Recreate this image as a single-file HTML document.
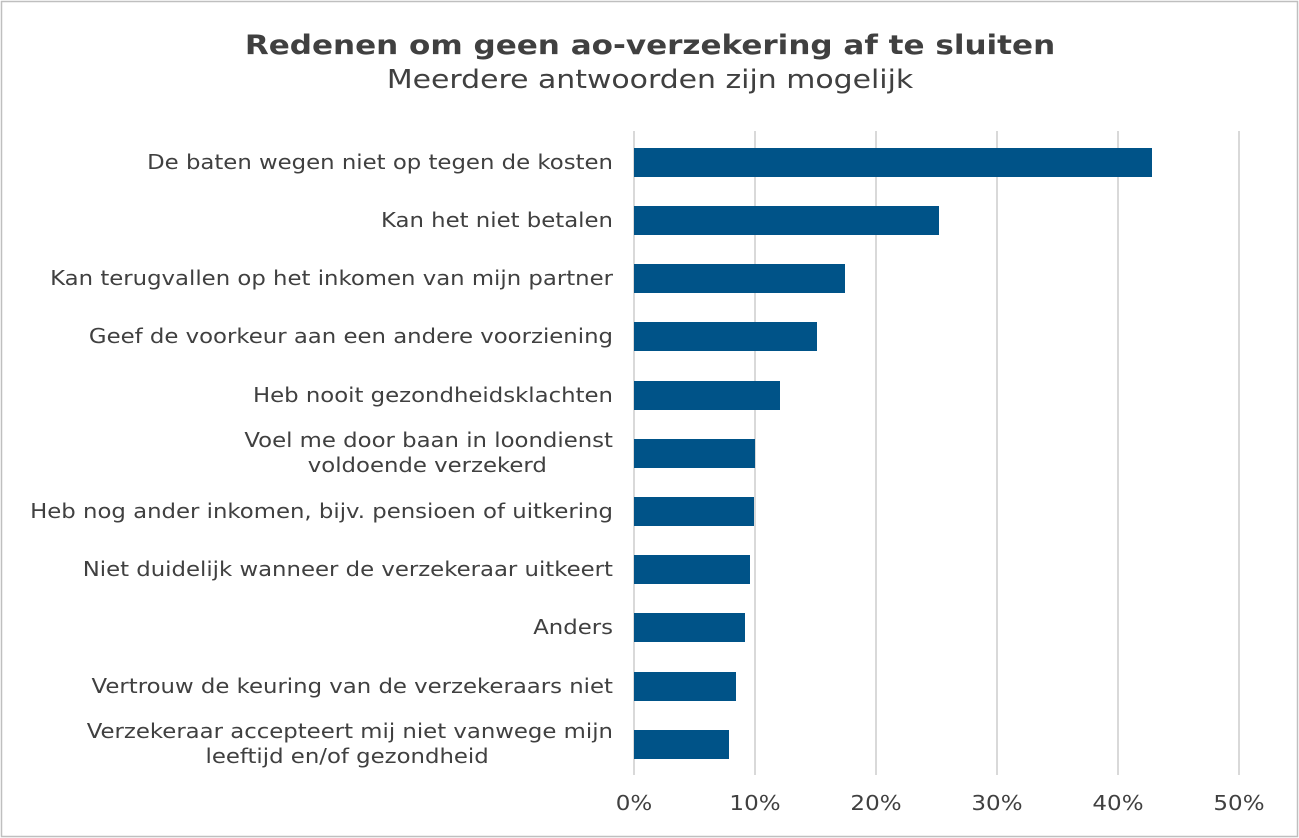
<!DOCTYPE html>
<html><head><meta charset="utf-8"><style>
html,body{margin:0;padding:0;background:#fff}
svg{display:block}
text{font-family:"DejaVu Sans","Liberation Sans",sans-serif;fill:#404040}
</style></head><body>
<svg width="1299" height="838" viewBox="0 0 1299 838">
<rect x="1.5" y="1.5" width="1296" height="835" fill="#fff" stroke="#bfbfbf" stroke-width="1.5"/>
<g transform="translate(650,0) scale(1.15,1) translate(-650,0)">
<text x="650" y="54" text-anchor="middle" font-size="27" font-weight="bold">Redenen om geen ao-verzekering af te sluiten</text>
<text x="650" y="88" text-anchor="middle" font-size="26">Meerdere antwoorden zijn mogelijk</text>
</g>
<g stroke="#d9d9d9" stroke-width="2">
<line x1="755" y1="131" x2="755" y2="775"/><line x1="876" y1="131" x2="876" y2="775"/>
<line x1="997" y1="131" x2="997" y2="775"/><line x1="1118" y1="131" x2="1118" y2="775"/>
<line x1="1239" y1="131" x2="1239" y2="775"/>
</g>
<line x1="634" y1="131" x2="634" y2="775" stroke="#d9d9d9" stroke-width="2"/>
<g fill="#005388">
<rect x="634" y="148" width="518" height="29"/>
<rect x="634" y="206" width="305" height="29"/>
<rect x="634" y="264" width="211" height="29"/>
<rect x="634" y="322" width="183" height="29"/>
<rect x="634" y="381" width="146" height="29"/>
<rect x="634" y="439" width="121" height="29"/>
<rect x="634" y="497" width="120" height="29"/>
<rect x="634" y="555" width="116" height="29"/>
<rect x="634" y="613" width="111" height="29"/>
<rect x="634" y="672" width="102" height="29"/>
<rect x="634" y="730" width="95" height="29"/>
</g>
<g font-size="20" text-anchor="end" transform="translate(613,0) scale(1.14,1) translate(-613,0)">
<text x="613" y="169">De baten wegen niet op tegen de kosten</text>
<text x="613" y="227">Kan het niet betalen</text>
<text x="613" y="285">Kan terugvallen op het inkomen van mijn partner</text>
<text x="613" y="343">Geef de voorkeur aan een andere voorziening </text>
<text x="613" y="402">Heb nooit gezondheidsklachten</text>
<text x="613" y="447">Voel me door baan in loondienst</text>
<text x="555" y="472">voldoende verzekerd</text>
<text x="613" y="518">Heb nog ander inkomen, bijv. pensioen of uitkering</text>
<text x="613" y="576">Niet duidelijk wanneer de verzekeraar uitkeert </text>
<text x="613" y="634">Anders</text>
<text x="613" y="693">Vertrouw de keuring van de verzekeraars niet </text>
<text x="613" y="738">Verzekeraar accepteert mij niet vanwege mijn</text>
<text x="504" y="763">leeftijd en/of gezondheid</text>
</g>
<g font-size="20" text-anchor="middle">
<text x="634" y="810" transform="translate(634,0) scale(1.15,1) translate(-634,0)">0%</text>
<text x="755" y="810" transform="translate(755,0) scale(1.15,1) translate(-755,0)">10%</text>
<text x="876" y="810" transform="translate(876,0) scale(1.15,1) translate(-876,0)">20%</text>
<text x="997" y="810" transform="translate(997,0) scale(1.15,1) translate(-997,0)">30%</text>
<text x="1118" y="810" transform="translate(1118,0) scale(1.15,1) translate(-1118,0)">40%</text>
<text x="1239" y="810" transform="translate(1239,0) scale(1.15,1) translate(-1239,0)">50%</text>
</g>
</svg>
</body></html>
